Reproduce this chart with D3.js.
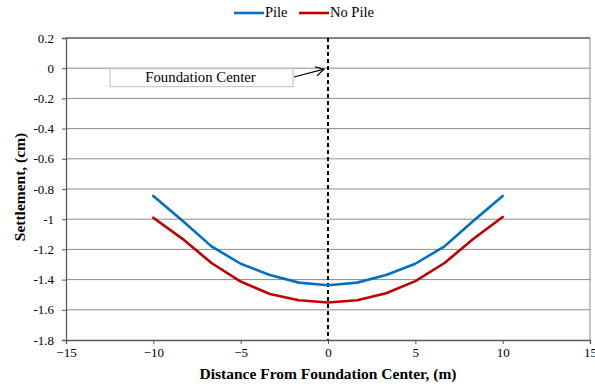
<!DOCTYPE html>
<html>
<head>
<meta charset="utf-8">
<script src="https://cdn.jsdelivr.net/npm/d3@7"></script>
</head>
<body style="margin:0;background:#fff">
<svg id="chart" width="595" height="384" font-family="Liberation Serif"></svg>
<script>
// Settlement profiles across the foundation
const distance = [-10, -8.33, -6.67, -5, -3.33, -1.67, 0, 1.67, 3.33, 5, 6.67, 8.33, 10];
const pileSettlement   = [-0.846, -1.01, -1.18, -1.295, -1.37, -1.42, -1.437, -1.42, -1.37, -1.295, -1.18, -1.01, -0.846];
const noPileSettlement = [-0.99, -1.13, -1.29, -1.413, -1.495, -1.537, -1.552, -1.537, -1.49, -1.41, -1.29, -1.13, -0.985];
const seriesNames = ["Pile", "No Pile"];
const seriesColors = ["#0070C0", "#C00000"];
const xTicks = [-15, -10, -5, 0, 5, 10, 15];
const yTicks = [0.2, 0, -0.2, -0.4, -0.6, -0.8, -1, -1.2, -1.4, -1.6, -1.8];
const FONT = "Liberation Serif";

const svg = d3.select("#chart");
const m = { left: 66, right: 590, top: 38, bottom: 340 };

const x = d3.scaleLinear().domain([-15, 15]).range([m.left, m.right]);
const y = d3.scaleLinear().domain([-1.8, 0.2]).range([m.bottom, m.top]);

// horizontal gridlines
svg.append("g").selectAll("line").data(yTicks.filter(d => d > -1.8)).join("line")
  .attr("x1", m.left).attr("x2", m.right)
  .attr("y1", d => y(d)).attr("y2", d => y(d))
  .attr("stroke", d => d === 0.2 ? "#595959" : "#8c8c8c")
  .attr("stroke-width", d => d === 0.2 ? 1.5 : 1);

// right border
svg.append("line").attr("x1", m.right).attr("x2", m.right)
  .attr("y1", m.top).attr("y2", m.bottom).attr("stroke", "#8c8c8c");

// axes
const fmt = d => (Math.abs(d) < 1e-9 ? "0" : String(+d.toFixed(1)));
const yAxis = svg.append("g").attr("transform", `translate(${m.left},0)`)
  .call(d3.axisLeft(y).tickValues(yTicks).tickSize(4).tickPadding(8).tickFormat(fmt));
const xAxis = svg.append("g").attr("transform", `translate(0,${m.bottom})`)
  .call(d3.axisBottom(x).tickValues(xTicks).tickSize(4).tickPadding(4).tickFormat(d3.format("")));
[yAxis, xAxis].forEach(g => {
  g.attr("font-family", FONT);
  g.select(".domain").attr("stroke", "#595959").attr("stroke-width", 1.3);
  g.selectAll(".tick line").attr("stroke", "#595959");
  g.selectAll("text").attr("font-family", FONT).attr("font-size", 13).attr("fill", "#000");
});

// foundation centre marker
svg.append("line").attr("x1", x(0)).attr("x2", x(0))
  .attr("y1", m.top).attr("y2", m.bottom)
  .attr("stroke", "#000").attr("stroke-width", 2).attr("stroke-dasharray", "4,3");

// series
const series = [pileSettlement, noPileSettlement];
const line = d3.line().x((d, i) => x(distance[i])).y(d => y(d));
svg.append("g").selectAll("path").data(series).join("path")
  .attr("d", d => line(d))
  .attr("fill", "none")
  .attr("stroke", (d, i) => seriesColors[i])
  .attr("stroke-width", 2.6)
  .attr("stroke-linejoin", "round")
  .attr("stroke-linecap", "round");

// annotation box and arrow
svg.append("rect").attr("x", 110).attr("y", y(0) + 0.5).attr("width", 183).attr("height", 18)
  .attr("fill", "#fff").attr("stroke", "#bfbfbf").attr("stroke-width", 1);
svg.append("text").attr("x", 200.5).attr("y", y(0) + 14).attr("text-anchor", "middle")
  .attr("font-family", FONT).attr("font-size", 14.8).text("Foundation Center");
svg.append("defs").append("marker").attr("id", "arrow")
  .attr("viewBox", "0 0 10 10").attr("refX", 9).attr("refY", 5)
  .attr("markerWidth", 8).attr("markerHeight", 8).attr("orient", "auto")
  .append("path").attr("d", "M0,0 L9,5 L0,10").attr("fill", "none").attr("stroke", "#000").attr("stroke-width", 1.2);
svg.append("line").attr("x1", 294).attr("y1", 77).attr("x2", x(0) - 4).attr("y2", y(0) + 1)
  .attr("stroke", "#000").attr("stroke-width", 1.2).attr("marker-end", "url(#arrow)");

// axis titles
svg.append("text").attr("x", x(0)).attr("y", 379)
  .attr("text-anchor", "middle").attr("font-weight", "bold").attr("font-family", FONT).attr("font-size", 15.5)
  .text("Distance From Foundation Center, (m)");
svg.append("text").attr("transform", `translate(25,187) rotate(-90)`)
  .attr("text-anchor", "middle").attr("font-weight", "bold").attr("font-family", FONT).attr("font-size", 15.5)
  .text("Settlement, (cm)");

// legend
const legend = svg.append("g");
const lx = [234, 299];
seriesNames.forEach((name, i) => {
  legend.append("line").attr("x1", lx[i]).attr("x2", lx[i] + 30).attr("y1", 13).attr("y2", 13)
    .attr("stroke", seriesColors[i]).attr("stroke-width", 2.6);
  legend.append("text").attr("x", lx[i] + 31).attr("y", 17)
    .attr("font-family", FONT).attr("font-size", 14.5).text(name);
});
</script>
</body>
</html>
